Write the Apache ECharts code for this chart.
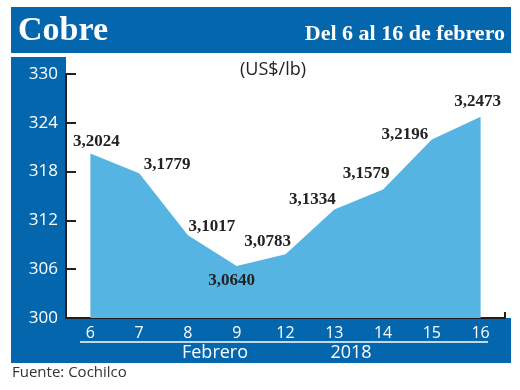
<!DOCTYPE html>
<html><head><meta charset="utf-8">
<script src="https://cdn.jsdelivr.net/npm/echarts@6/dist/echarts.min.js"></script>
<style>html,body{margin:0;padding:0;background:#fff}#c{width:520px;height:390px}</style>
</head><body><div id="c"></div>
<script>
const days = ['6','7','8','9','12','13','14','15','16'];
const prices = [320.24, 317.79, 310.17, 306.40, 307.83, 313.34, 315.79, 321.96, 324.73];
const yTicks = [300, 306, 312, 318, 324, 330];
const labelOffsets = [[6,-3],[28,0],[24,0],[-5,24],[-18,-4],[-22,-1],[-17,-7],[-27,4],[-3,-6]];

const BLUE = '#0467AD';
const chart = echarts.init(document.getElementById('c'));
const fmt = v => (v/100).toFixed(4).replace('.', ',');
chart.setOption({
  animation: false,
  grid: {left: 66, right: 15, top: 74, bottom: 72},
  graphic: [
    {type:'rect', z:-10, shape:{x:11,y:7,width:500,height:46}, style:{fill:BLUE}},
    {type:'rect', z:-10, shape:{x:11,y:57,width:55,height:306}, style:{fill:BLUE}},
    {type:'rect', z:-10, shape:{x:11,y:318,width:500,height:45}, style:{fill:BLUE}},
    {type:'text', z:5, style:{text:'Cobre', x:18, y:31, fill:'#fff', font:'bold 34px "Liberation Serif"', textVerticalAlign:'middle'}},
    {type:'text', z:5, style:{text:'Del 6 al 16 de febrero', x:505, y:34, fill:'#fff', font:'bold 22px "Liberation Serif"', textAlign:'right', textVerticalAlign:'middle'}},
    {type:'text', z:5, style:{text:'(US$/lb)', x:273, y:70, fill:'#222', font:'18px "Open Sans"', textAlign:'center', textVerticalAlign:'middle'}},
    {type:'line', z:5, shape:{x1:80,y1:342,x2:488,y2:342}, style:{stroke:'#fff', lineWidth:1.5}},
    {type:'text', z:5, style:{text:'Febrero', x:215, y:353, fill:'#fff', font:'18px "Open Sans"', textAlign:'center', textVerticalAlign:'middle'}},
    {type:'text', z:5, style:{text:'2018', x:351, y:353, fill:'#fff', font:'18px "Open Sans"', textAlign:'center', textVerticalAlign:'middle'}},
    {type:'text', z:5, style:{text:'Fuente: Cochilco', x:12, y:373, fill:'#333', font:'15px "Open Sans"', textVerticalAlign:'middle'}},
    {type:'line', z:5, shape:{x1:505,y1:312,x2:505,y2:318}, style:{stroke:'#231F20', lineWidth:2}}
  ],
  xAxis: {
    type:'category', data: days, boundaryGap: true,
    axisLine:{lineStyle:{color:'#231F20', width:2}},
    axisTick:{show:false},
    axisLabel:{color:'#fff', fontSize:16, fontFamily:'Open Sans', margin:7}
  },
  yAxis: {
    type:'value', min: yTicks[0], max: yTicks[yTicks.length-1], interval: 6,
    axisLine:{show:true, lineStyle:{color:'#231F20', width:2}},
    axisTick:{show:true, inside:true, length:10, lineStyle:{color:'#231F20', width:2}},
    splitLine:{show:false},
    axisLabel:{color:'#fff', fontSize:17, fontFamily:'Open Sans', margin:8}
  },
  series: [{
    type:'line', symbol:'circle', symbolSize:1, showSymbol:true,
    itemStyle:{color:'rgba(0,0,0,0)'},
    lineStyle:{width:0},
    areaStyle:{color:'#56B4E3', opacity:1},
    data: prices.map((v,i)=>({value:v, label:{offset:labelOffsets[i]}})),
    label:{show:true, position:'top', distance:0, lineHeight:17,
      formatter: p => fmt(p.value), color:'#222', fontSize:17, fontWeight:'bold', fontFamily:'Liberation Serif'}
  }]
});
</script></body></html>
